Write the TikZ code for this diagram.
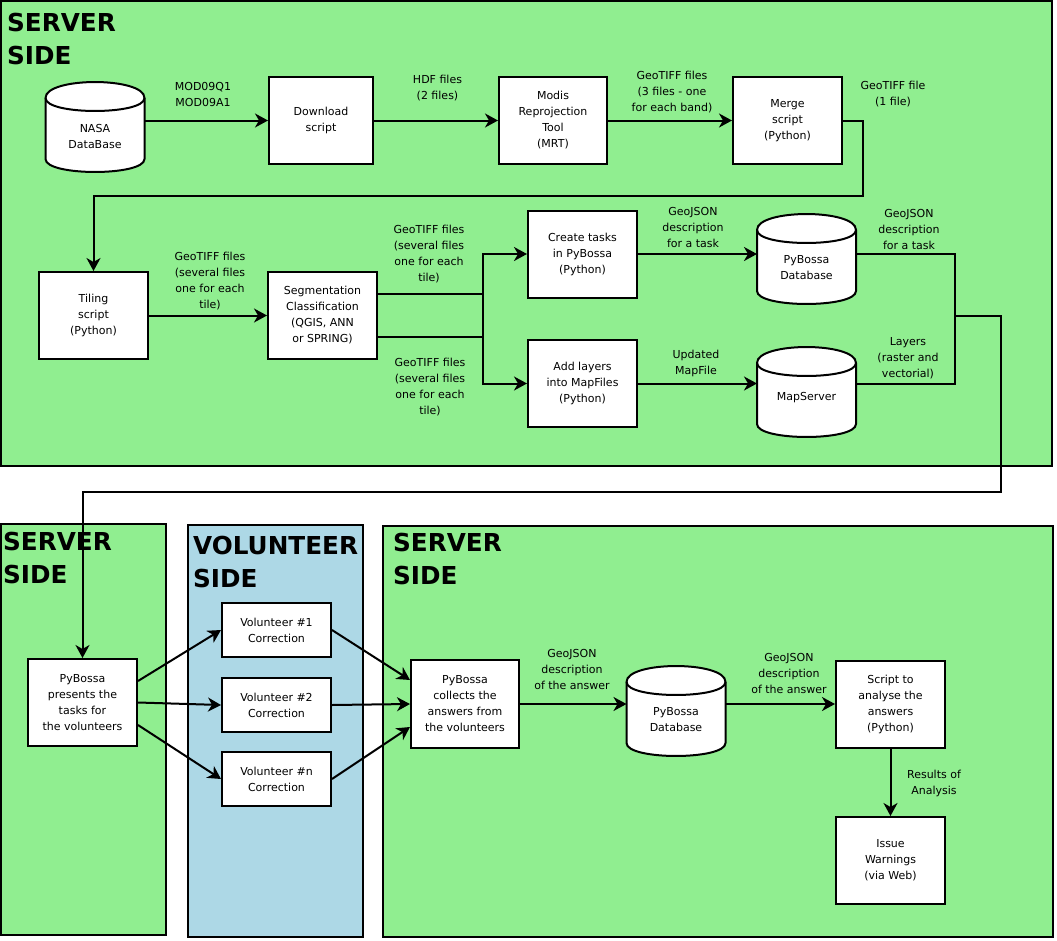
\documentclass[tikz,border=0pt]{standalone}
\usepackage{fontspec}
\setmainfont{DejaVu Sans}
\usepackage{tikz}
\usetikzlibrary{arrows.meta,calc,positioning}

\definecolor{servergreen}{HTML}{90EE90}
\definecolor{volblue}{HTML}{ADD8E6}

\newcommand{\lblfont}{\fontsize{11bp}{16bp}\selectfont}
\newcommand{\sidefont}{\fontsize{24.7bp}{33bp}\selectfont\bfseries}

\tikzset{
  panel/.style={draw,line width=2bp},
  box/.style={draw,fill=white,line width=2bp,minimum width=109bp,minimum height=87bp,
    align=center,inner sep=2bp,font=\lblfont},
  volbox/.style={box,minimum height=54bp},
  db/.style={minimum width=99bp,inner sep=0pt,outer sep=0pt,align=center,font=\lblfont},
  dbline/.style={draw,fill=white,line width=2bp},
  lbl/.style={align=center,inner sep=0pt,font=\lblfont},
  side/.style={anchor=north west,align=left,inner sep=0pt,font=\sidefont},
  conn/.style={line width=2bp},
  arr/.style={conn,->},
}

% database drawn round the point where its text sits
\newcommand{\dbshape}[1]{%
  \draw [dbline,shift={#1}] (-49.5bp,38bp) .. controls (-49.5bp,59.3bp) and (49.5bp,59.3bp) .. (49.5bp,38bp)
    -- (49.5bp,-23bp) .. controls (49.5bp,-40.3bp) and (-49.5bp,-40.3bp) .. (-49.5bp,-23bp) -- cycle;
  \draw [line width=2bp,shift={#1}] (-49.5bp,38bp) .. controls (-49.5bp,20.7bp) and (49.5bp,20.7bp) .. (49.5bp,38bp);
}

\begin{document}
\begin{tikzpicture}[>={Stealth[length=13bp,width=14bp,inset=4bp]},line join=miter]
\useasboundingbox (0,0) rectangle (1057bp,-941bp);
%% sides
\draw [panel,fill=servergreen] (1bp,-1bp) rectangle (1052bp,-466bp);
\draw [panel,fill=servergreen] (1bp,-524bp) rectangle (166bp,-935bp);
\draw [panel,fill=volblue] (188bp,-525bp) rectangle (363bp,-937bp);
\draw [panel,fill=servergreen] (383bp,-526bp) rectangle (1053bp,-937bp);
\node (side1) at (7bp,-13bp) [side] {SERVER\\SIDE};
\node (side2) at (3bp,-532bp) [side] {SERVER\\SIDE};
\node (side3) at (193bp,-536bp) [side] {VOLUNTEER\\SIDE};
\node (side4) at (393bp,-533bp) [side] {SERVER\\SIDE};
%% databases
\dbshape{(95bp,-136bp)}
\node (nasa) at (95bp,-136bp) [db] {NASA\\DataBase};
\dbshape{(806.5bp,-268bp)}
\node (pbdb) at (806.5bp,-268bp) [db] {PyBossa\\Database};
\dbshape{(806.5bp,-401bp)}
\node (map) at (806.5bp,-398bp) [db] {MapServer};
\dbshape{(676bp,-720bp)}
\node (pbdb2) at (676bp,-720bp) [db] {PyBossa\\Database};
%% processes
\node (dl) at (321bp,-120.5bp) [box,minimum width=104bp] {Download\\script};
\node (mrt) at (553bp,-120.5bp) [box,minimum width=108bp] {Modis\\Reprojection\\Tool\\(MRT)};
\node (merge) at (787.5bp,-120.5bp) [box] {Merge\\script\\(Python)};
\node (tiling) at (93.5bp,-315.5bp) [box] {Tiling\\script\\(Python)};
\node (seg) at (322.5bp,-315.5bp) [box] {Segmentation\\Classification\\(QGIS, ANN\\or SPRING)};
\node (create) at (582.5bp,-254bp) [box] {Create tasks\\in PyBossa\\(Python)};
\node (layers) at (582.5bp,-383.5bp) [box] {Add layers\\into MapFiles\\(Python)};
\node (present) at (82.5bp,-702.5bp) [box] {PyBossa\\presents the\\tasks for\\the volunteers};
\node (vol1) at (276.5bp,-630bp) [volbox] {Volunteer \#1\\Correction};
\node (vol2) at (276.5bp,-705bp) [volbox] {Volunteer \#2\\Correction};
\node (voln) at (276.5bp,-779bp) [volbox] {Volunteer \#n\\Correction};
\node (collect) at (465bp,-704bp) [box,minimum width=108bp,minimum height=88bp] {PyBossa\\collects the\\answers from\\the volunteers};
\node (script) at (890.5bp,-704bp) [box] {Script to\\analyse the\\answers\\(Python)};
\node (warn) at (890.5bp,-860.5bp) [box] {Issue\\Warnings\\(via Web)};
%% labels
\node (lmod) at (203bp,-94bp) [lbl] {MOD09Q1\\MOD09A1};
\node (lhdf) at (437.5bp,-88.5bp) [lbl] {HDF files\\(2 files)};
\node (lband) at (672bp,-92bp) [lbl] {GeoTIFF files\\(3 files - one\\for each band)};
\node (lone) at (893bp,-94bp) [lbl] {GeoTIFF file\\(1 file)};
\node (ltile) at (210bp,-281bp) [lbl] {GeoTIFF files\\(several files\\one for each\\tile)};
\node (lseg1) at (429bp,-254bp) [lbl] {GeoTIFF files\\(several files\\one for each\\tile)};
\node (lseg2) at (430bp,-387.5bp) [lbl] {GeoTIFF files\\(several files\\one for each\\tile)};
\node (ltask1) at (693bp,-227bp) [lbl] {GeoJSON\\description\\for a task};
\node (ltask2) at (909bp,-229bp) [lbl] {GeoJSON\\description\\for a task};
\node (lmapf) at (696bp,-363bp) [lbl] {Updated\\MapFile};
\node (llay) at (908bp,-358bp) [lbl] {Layers\\(raster and\\vectorial)};
\node (lans1) at (572bp,-669bp) [lbl] {GeoJSON\\description\\of the answer};
\node (lans2) at (789bp,-673bp) [lbl] {GeoJSON\\description\\of the answer};
\node (lres) at (934bp,-783bp) [lbl] {Results of\\Analysis};
%% connectors
\coordinate (mt) at (863bp,-196bp);
\coordinate (br) at (483bp,-315.5bp);
\coordinate (jn) at (955bp,-316bp);
\coordinate (turn) at (1001bp,-492bp);
\coordinate (s1) at ([yshift=21.5bp]seg.east);
\coordinate (s2) at ([yshift=-21.5bp]seg.east);
\draw [arr] (nasa.east |- dl.west) -- (dl.west);
\draw [arr] (dl) -- (mrt);
\draw [arr] (mrt) -- (merge);
\draw [arr] (merge.east) -| (mt) -| (tiling.north);
\draw [arr] (tiling) -- (seg);
\draw [conn] (s1) -- (s1 -| br);
\draw [conn] (s2) -- (s2 -| br);
\draw [arr] (br) |- (create.west);
\draw [arr] (br) |- (layers.west);
\draw [arr] (create.east) -- (create.east -| pbdb.west);
\draw [arr] (layers.east) -- (layers.east -| map.west);
\draw [conn] (pbdb.east |- create.east) -| (jn);
\draw [conn] (map.east |- layers.east) -| (jn);
\draw [arr] (jn) -| (turn) -| (present.north);
\draw [arr] ([yshift=21.5bp]present.east) -- (vol1.west);
\draw [arr] (present.east) -- (vol2.west);
\draw [arr] ([yshift=-22.5bp]present.east) -- (voln.west);
\draw [arr] (vol1.east) -- ([yshift=24bp]collect.west);
\draw [arr] (vol2.east) -- (collect.west);
\draw [arr] (voln.east) -- ([yshift=-23bp]collect.west);
\draw [arr] (collect.east) -- (collect.east -| pbdb2.west);
\draw [arr] (pbdb2.east |- collect.east) -- (script.west);
\draw [arr] (script) -- (warn);
%
\end{tikzpicture}
\end{document}
